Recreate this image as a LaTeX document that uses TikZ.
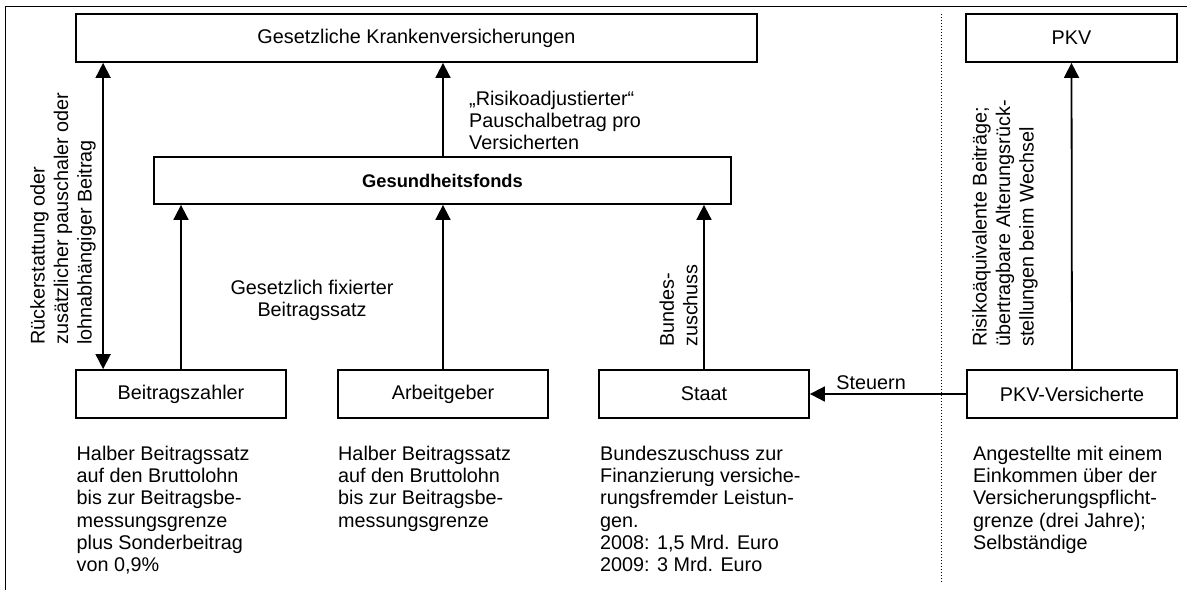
\documentclass[tikz,border=0pt]{standalone}
\usepackage{fontspec}
\setmainfont{Liberation Sans}
\usetikzlibrary{arrows.meta}

\begin{document}
\begin{tikzpicture}[x=1pt,y=-1pt,
  every node/.style={font=\fontsize{19.8}{22.2}\selectfont, inner sep=0pt},
  >={Triangle[length=15pt,width=15pt]},
  box/.style={draw, line width=1.8pt, minimum width=210pt, minimum height=48pt},
  note/.style={align=left, anchor=north west},
  vlabel/.style={rotate=90, align=left, anchor=west, font=\fontsize{19.8}{23.5}\selectfont},
  flow/.style={line width=1.8pt, ->}]
\useasboundingbox (0,0) rectangle (1187,590);
\draw[line width=1pt] (5,590) -- (5,6) -- (1187,6);

\node[box, minimum width=681pt] (gkv) at (416.5,38) {Gesetzliche Krankenversicherungen};
\node[box, minimum width=211pt] (pkv) at (1071.5,38) {PKV};
\node[box, minimum width=577pt, minimum height=47pt,
  font=\fontsize{18.3}{22}\selectfont\bfseries] (fonds) at (442.5,180.5) {Gesundheitsfonds};

\node[box] (zahler) at (181,394) {Beitragszahler};
\node[box] (arbeit) at (443,394) {Arbeitgeber};
\node[box] (staat) at (704,394) {Staat};
\node[box] (pkvvers) at (1072,394) {PKV-Versicherte};

% Geldfluesse
\draw[flow, <->] ([xshift=28pt]zahler.north west) -- ([xshift=28pt]zahler.north west |- gkv.south);
\draw[flow] (zahler.north) -- (zahler.north |- fonds.south);
\draw[flow] (arbeit.north) -- (arbeit.north |- fonds.south);
\draw[flow] (arbeit.north |- fonds.north) -- (arbeit.north |- gkv.south);
\draw[flow] (staat.north) -- (staat.north |- fonds.south);
\draw[flow] (pkvvers.north) -- (pkv.south);
\draw[flow] (pkvvers.west) -- node[pos=0.608, above=3pt] (steuern) {Steuern} (staat.east);

\draw[dotted, line width=1pt] (941,14) coordinate (top) -- (941,582) coordinate (bottom);

\node[vlabel] (rueck) at (63,345) {Rückerstattung oder\\zusätzlicher pauschaler oder\\lohnabhängiger Beitrag};
\node[vlabel] (zuschuss) at (678.5,347) {Bundes-\\zuschuss};
\node[vlabel] (risikoaeq) at (1005,347) {Risikoäquivalente Beiträge;\\übertragbare Alterungsrück-\\stellungen beim Wechsel};

\node[note] (pauschal) at (469,91) {„Risikoadjustierter“\\Pauschalbetrag pro\\Versicherten};
\node[align=center, anchor=north] (satz) at (312,280) {Gesetzlich fixierter\\Beitragssatz};

\node[note] (zahlertext) at (76.5,446) {Halber Beitragssatz\\auf den Bruttolohn\\bis zur Beitragsbe-\\messungsgrenze\\plus Sonderbeitrag\\von 0,9\%};
\node[note] (arbeittext) at (338,446) {Halber Beitragssatz\\auf den Bruttolohn\\bis zur Beitragsbe-\\messungsgrenze};
\node[note] (staattext) at (600,446) {Bundeszuschuss zur\\Finanzierung versiche-\\rungsfremder Leistun-\\gen.\\2008: 1,5 Mrd. Euro\\2009: 3 Mrd. Euro};
\node[note] (pkvtext) at (973,446) {Angestellte mit einem\\Einkommen über der\\Versicherungspflicht-\\grenze (drei Jahre);\\Selbständige};
\end{tikzpicture}
\end{document}
